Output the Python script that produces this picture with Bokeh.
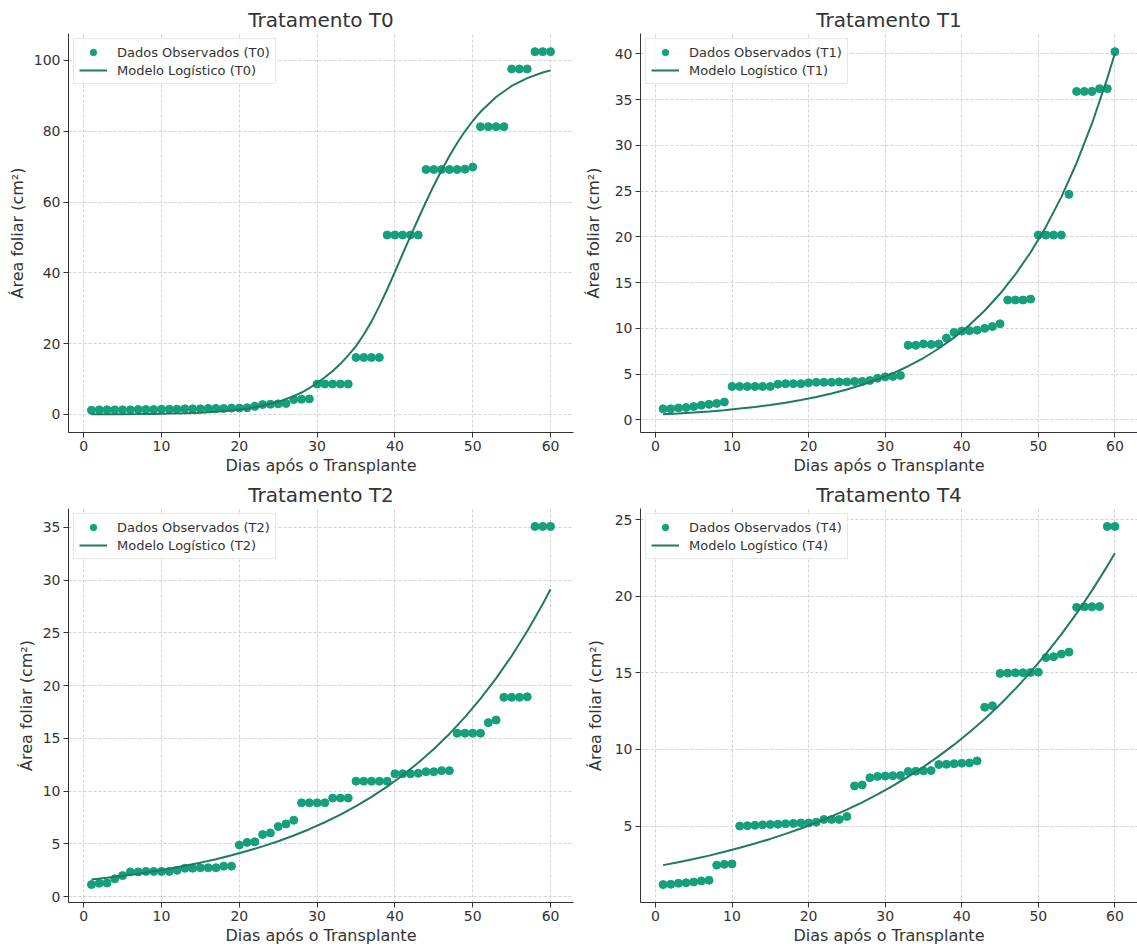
from bokeh.plotting import figure
from bokeh.layouts import gridplot
from bokeh.models import Range1d, FixedTicker, Legend, LegendItem
from bokeh.embed import file_html
from bokeh.resources import INLINE

# ---------------- data ----------------
days = list(range(1, 61))
model_days = [1, 3, 5, 7, 9, 11, 13, 15, 17, 19, 21, 23, 25, 27, 29, 31,
              33, 35, 37, 39, 41, 43, 45, 47, 49, 51, 53, 55, 57, 59, 60]
model_days_T0 = [1, 3, 5, 7, 9, 11, 13, 15, 17, 19, 21, 23, 25, 27, 28, 29, 30,
                 31, 32, 33, 34, 35, 36, 37, 38, 39, 40, 41, 42, 43, 44, 45, 46,
                 47, 48, 49, 50, 51, 53, 55, 57, 59, 60]

obs_T0 = [1.2, 1.3, 1.3, 1.3, 1.3, 1.3, 1.4, 1.4, 1.4, 1.5,
          1.5, 1.5, 1.6, 1.6, 1.6, 1.7, 1.7, 1.7, 1.8, 1.8,
          1.9, 2.3, 2.8, 2.9, 3.0, 3.1, 4.2, 4.3, 4.4, 8.6,
          8.6, 8.6, 8.6, 8.6, 16.1, 16.1, 16.1, 16.1, 50.7, 50.7,
          50.7, 50.7, 50.7, 69.2, 69.2, 69.2, 69.2, 69.2, 69.3, 69.9,
          81.3, 81.3, 81.3, 81.3, 97.6, 97.6, 97.6, 102.5, 102.5, 102.5]
model_T0 = [0.03, 0.05, 0.08, 0.11, 0.16, 0.24, 0.36, 0.52, 0.77, 1.14,
            1.67, 2.45, 3.57, 5.19, 6.2, 7.45, 8.9,
            10.5, 12.3, 14.3, 16.7, 19.3, 22.6, 26.3, 30.6, 35.3, 40.3, 45.4, 50.4,
            55.3, 60.1, 64.7, 69.0, 73.0, 76.7, 80.0, 82.9, 85.5,
            89.7, 92.8, 95.0, 96.6, 97.2]

obs_T1 = [1.2, 1.2, 1.3, 1.35, 1.45, 1.6, 1.7, 1.8, 1.95, 3.65,
          3.65, 3.65, 3.65, 3.65, 3.65, 3.9, 3.95, 3.95, 3.95, 4.05,
          4.1, 4.1, 4.1, 4.15, 4.15, 4.2, 4.2, 4.3, 4.55, 4.7,
          4.75, 4.85, 8.15, 8.15, 8.3, 8.25, 8.3, 8.95, 9.55, 9.7,
          9.75, 9.8, 10.0, 10.2, 10.5, 13.1, 13.1, 13.1, 13.2, 20.2,
          20.2, 20.2, 20.2, 24.65, 35.9, 35.9, 35.9, 36.2, 36.2, 40.25]
model_T1 = [0.60, 0.69, 0.80, 0.92, 1.06, 1.23, 1.41, 1.63, 1.88, 2.16,
            2.50, 2.88, 3.32, 3.83, 4.41, 5.09, 5.86, 6.76, 7.80, 8.99,
            10.36, 11.95, 13.78, 15.89, 18.32, 21.12, 24.35, 28.08, 32.37, 37.33, 40.08]

obs_T2 = [1.15, 1.28, 1.3, 1.7, 2.0, 2.35, 2.35, 2.4, 2.4, 2.4,
          2.4, 2.5, 2.7, 2.7, 2.75, 2.75, 2.75, 2.9, 2.9, 4.9,
          5.15, 5.2, 5.9, 6.05, 6.65, 6.9, 7.25, 8.9, 8.9, 8.9,
          8.9, 9.35, 9.35, 9.35, 10.95, 10.95, 10.95, 10.95, 10.95, 11.65,
          11.65, 11.65, 11.7, 11.85, 11.85, 11.95, 11.95, 15.5, 15.5, 15.5,
          15.5, 16.5, 16.75, 18.9, 18.9, 18.9, 18.95, 35.1, 35.1, 35.1]
model_T2 = [1.63, 1.80, 1.98, 2.18, 2.41, 2.65, 2.93, 3.23, 3.56, 3.93,
            4.33, 4.77, 5.26, 5.80, 6.40, 7.06, 7.78, 8.58, 9.47, 10.44,
            11.51, 12.69, 14.00, 15.43, 17.02, 18.77, 20.70, 22.82, 25.17, 27.75, 29.14]

obs_T4 = [1.18, 1.2, 1.27, 1.3, 1.35, 1.42, 1.46, 2.45, 2.5, 2.53,
          5.0, 5.02, 5.05, 5.08, 5.1, 5.12, 5.15, 5.17, 5.2, 5.2,
          5.25, 5.43, 5.43, 5.43, 5.62, 7.62, 7.68, 8.15, 8.24, 8.26,
          8.28, 8.3, 8.56, 8.58, 8.6, 8.62, 9.01, 9.03, 9.07, 9.1,
          9.12, 9.25, 12.75, 12.85, 14.96, 14.98, 15.0, 15.0, 15.02, 15.04,
          15.99, 16.05, 16.22, 16.35, 19.27, 19.3, 19.3, 19.32, 24.55, 24.55]
model_T4 = [2.45, 2.64, 2.85, 3.07, 3.32, 3.58, 3.86, 4.16, 4.49, 4.84,
            5.22, 5.63, 6.07, 6.55, 7.06, 7.62, 8.22, 8.86, 9.56, 10.31,
            11.12, 11.99, 12.93, 13.95, 15.04, 16.23, 17.50, 18.87, 20.36, 21.96, 22.80]

x_ticks = [0, 10, 20, 30, 40, 50, 60]
y_ticks_T0 = [0, 20, 40, 60, 80, 100]
y_ticks_T1 = [0, 5, 10, 15, 20, 25, 30, 35, 40]
y_ticks_T2 = [0, 5, 10, 15, 20, 25, 30, 35]
y_ticks_T4 = [5, 10, 15, 20, 25]

# ---------------- style ----------------
FONT = "DejaVu Sans"
DOT = "#14a07b"
LINE = "#217a60"
TXT = "#333333"


def make_panel(name, obs, mdays, model, yticks, width, height, bl, br, bt, bb, ystandoff):
    ymin = min(obs + model)
    ymax = max(obs + model)
    ypad = 0.05 * (ymax - ymin)
    xmin, xmax = min(days), max(days)
    xpad = 0.05 * (xmax - xmin)
    p = figure(width=width, height=height, output_backend="svg", toolbar_location=None,
               x_range=Range1d(xmin - xpad, xmax + xpad),
               y_range=Range1d(ymin - ypad, ymax + ypad),
               min_border_left=bl, min_border_right=br,
               min_border_top=bt, min_border_bottom=bb)
    p.outline_line_color = None
    p.background_fill_color = "white"
    p.border_fill_color = "white"

    p.title.text = "Tratamento " + name
    p.title.align = "center"
    p.title.text_font = FONT
    p.title.text_font_size = "20px"
    p.title.text_font_style = "normal"
    p.title.text_color = TXT
    p.title.standoff = 4

    for ax in (p.xaxis, p.yaxis):
        ax.axis_line_color = TXT
        ax.axis_line_width = 1
        ax.major_tick_line_color = TXT
        ax.major_tick_out = 5
        ax.major_tick_in = 0
        ax.minor_tick_line_color = None
        ax.major_label_text_font = FONT
        ax.major_label_text_font_size = "14px"
        ax.major_label_text_color = TXT
        ax.major_label_standoff = 3
        ax.axis_label_text_font = FONT
        ax.axis_label_text_font_size = "16px"
        ax.axis_label_text_font_style = "normal"
        ax.axis_label_text_color = TXT
    p.xaxis.axis_label = "Dias após o Transplante"
    p.xaxis.axis_label_standoff = 2
    p.yaxis.axis_label = "Área foliar (cm²)"
    p.yaxis.axis_label_standoff = ystandoff
    p.xaxis.ticker = FixedTicker(ticks=x_ticks)
    p.yaxis.ticker = FixedTicker(ticks=yticks)

    for g in (p.xgrid, p.ygrid):
        g.grid_line_color = "#d2d2d2"
        g.grid_line_dash = "3 2"
        g.grid_line_width = 1

    r1 = p.scatter(days, obs, size=8, fill_color=DOT, line_color=DOT)
    r2 = p.line(mdays, model, line_width=2, line_color=LINE)

    legend = Legend(items=[LegendItem(label="Dados Observados (" + name + ")", renderers=[r1]),
                           LegendItem(label="Modelo Logístico (" + name + ")", renderers=[r2])],
                    location="top_left")
    legend.margin = 5
    legend.padding = 5
    legend.spacing = 2
    legend.glyph_width = 28
    legend.glyph_height = 16
    legend.label_height = 16
    legend.label_standoff = 10
    legend.label_text_font = FONT
    legend.label_text_font_size = "13px"
    legend.label_text_color = TXT
    legend.border_line_color = "#d0d0d0"
    legend.border_line_width = 1
    legend.background_fill_color = "white"
    legend.background_fill_alpha = 0.85
    p.add_layout(legend)
    return p


p0 = make_panel("T0", obs_T0, model_days_T0, model_T0, y_ticks_T0, 580, 477, 68, 7, 33, 45, 4)
p1 = make_panel("T1", obs_T1, model_days, model_T1, y_ticks_T1, 557, 477, 56, 0, 33, 45, 9)
p2 = make_panel("T2", obs_T2, model_days, model_T2, y_ticks_T2, 580, 470, 67, 7, 31, 40, 4)
p3 = make_panel("T4", obs_T4, model_days, model_T4, y_ticks_T4, 557, 470, 56, 0, 31, 40, 7)

grid = gridplot([[p0, p1], [p2, p3]], toolbar_location=None)

open("out.html", "w").write(file_html(grid, INLINE))
